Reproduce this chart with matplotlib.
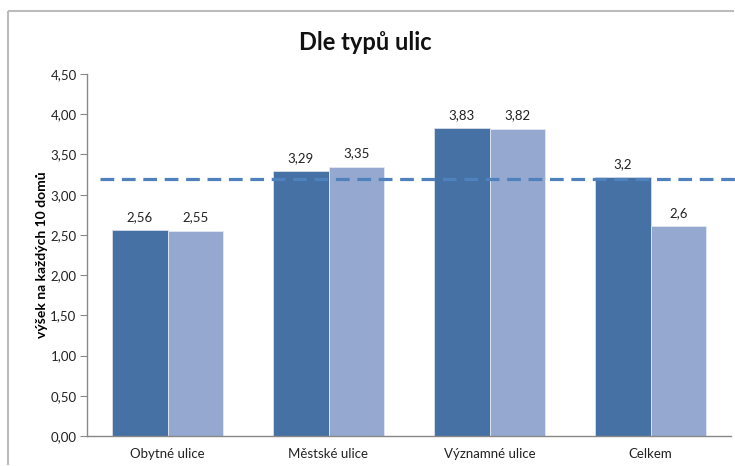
import numpy as np
import matplotlib
matplotlib.use("Agg")
import matplotlib.pyplot as plt
from matplotlib.lines import Line2D
from matplotlib.ticker import FuncFormatter

# --- data ---
categories = ["Obytné ulice", "Městské ulice", "Významné ulice", "Celkem"]
series_a = [2.56, 3.29, 3.83, 3.22]
series_b = [2.55, 3.35, 3.82, 2.61]
labels_a = ["2,56", "3,29", "3,83", "3,2"]
labels_b = ["2,55", "3,35", "3,82", "2,6"]
average_line = 3.19
y_ticks = [0, 0.5, 1.0, 1.5, 2.0, 2.5, 3.0, 3.5, 4.0, 4.5]

plt.rcParams["font.family"] = ["Lato", "DejaVu Sans"]

dark = "#4571A5"
light = "#94A8D0"
dash = "#4F81BD"

fig = plt.figure(figsize=(7.35, 4.66), dpi=100)
ax = fig.add_axes([87/735, 30/466, (731-87)/735, (436-74)/466])

# outer chart frame: only its top and left edges fall inside the crop
top = 1 - 11/466
left = 8/735
fig.add_artist(Line2D([left, 734/735], [top, top], transform=fig.transFigure,
                      color="#BBBBBB", lw=1.5, solid_capstyle="butt"))
fig.add_artist(Line2D([left, left], [1/466, top], transform=fig.transFigure,
                      color="#BBBBBB", lw=1.5, solid_capstyle="butt"))

x = np.arange(len(categories))
w = 0.345
ax.bar(x - w/2, series_a, width=w, color=dark, edgecolor="#D8DEEA", linewidth=0.6, zorder=2)
ax.bar(x + w/2, series_b, width=w, color=light, edgecolor="#E3E8F2", linewidth=0.6, zorder=2)

for xi, v, t in zip(x - w/2, series_a, labels_a):
    ax.text(xi, v + 0.09, t, ha="center", va="bottom", fontsize=9.5, color="#222222")
for xi, v, t in zip(x + w/2, series_b, labels_b):
    ax.text(xi, v + 0.09, t, ha="center", va="bottom", fontsize=9.5, color="#222222")

ax.plot([-0.42, 3.55], [average_line, average_line], ls=(0, (4.3, 2.4)), color=dash, lw=2.3,
        zorder=3, clip_on=False)

ax.set_xlim(-0.5, 3.5)
ax.set_ylim(0, 4.5)
ax.set_yticks(y_ticks)
ax.yaxis.set_major_formatter(FuncFormatter(lambda v, p: f"{v:.2f}".replace(".", ",")))
ax.set_xticks(x)
ax.set_xticklabels(categories)
ax.tick_params(axis="x", length=0, pad=9, labelsize=9.5, colors="#222222")
ax.tick_params(axis="y", length=5, direction="out", labelsize=9.5, colors="#222222", pad=2.5)
ax.tick_params(axis="y", color="#888888")
for s in ["top", "right"]:
    ax.spines[s].set_visible(False)
for s in ["left", "bottom"]:
    ax.spines[s].set_color("#888888")
    ax.spines[s].set_linewidth(1)

ax.set_ylabel("výšek na každých 10 domů", fontsize=10, fontweight="bold", labelpad=2)
fig.text(365/735, 1 - 43/466, "Dle typů ulic", ha="center", va="center",
         fontsize=17, fontweight="bold", color="#111111")

fig.savefig("out.png", dpi=100)
